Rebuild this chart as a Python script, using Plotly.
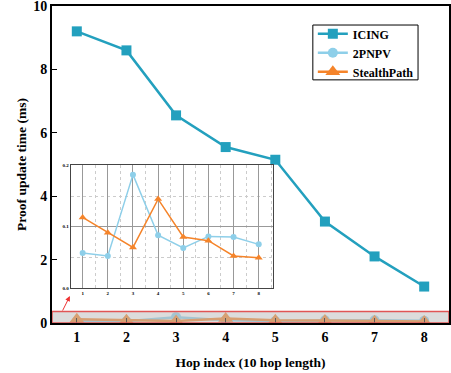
import plotly.graph_objects as go

hops = [1, 2, 3, 4, 5, 6, 7, 8]
icing = [9.2, 8.6, 6.55, 5.55, 5.15, 3.2, 2.1, 1.15]
pnpv = [0.057, 0.052, 0.185, 0.086, 0.065, 0.084, 0.083, 0.071]
stealth = [0.115, 0.090, 0.066, 0.145, 0.083, 0.077, 0.052, 0.049]

C_ICING = "#23a0be"
C_PNPV = "#8ecfe9"
C_ST = "#f5842a"
FONT = "Liberation Serif"

fig = go.Figure()

# main traces
fig.add_trace(go.Scatter(x=hops, y=icing, name="ICING", mode="lines+markers",
                         line=dict(color=C_ICING, width=2.5),
                         marker=dict(symbol="square", size=10, color=C_ICING),
                         xaxis="x", yaxis="y"))
fig.add_trace(go.Scatter(x=hops, y=pnpv, name="2PNPV", mode="lines+markers",
                         line=dict(color=C_PNPV, width=2.5),
                         marker=dict(symbol="circle", size=10, color=C_PNPV),
                         xaxis="x", yaxis="y"))
fig.add_trace(go.Scatter(x=hops, y=stealth, name="StealthPath", mode="lines+markers",
                         line=dict(color=C_ST, width=2.5),
                         marker=dict(symbol="triangle-up", size=13, color=C_ST),
                         xaxis="x", yaxis="y"))

# inset traces
fig.add_trace(go.Scatter(x=hops, y=pnpv, mode="lines+markers", showlegend=False,
                         line=dict(color=C_PNPV, width=1.5),
                         marker=dict(symbol="circle", size=6, color=C_PNPV),
                         xaxis="x2", yaxis="y2"))
fig.add_trace(go.Scatter(x=hops, y=stealth, mode="lines+markers", showlegend=False,
                         line=dict(color=C_ST, width=1.5),
                         marker=dict(symbol="triangle-up", size=7, color=C_ST),
                         xaxis="x2", yaxis="y2"))

fig.update_layout(
    width=451, height=373,
    margin=dict(l=52, r=2, t=6, b=50, autoexpand=False),
    paper_bgcolor="white", plot_bgcolor="white",
    font=dict(family=FONT, color="black"),
    xaxis=dict(domain=[0, 1], range=[0.5, 8.5], tickvals=hops, automargin=False,
               showline=True, linecolor="black", linewidth=2, mirror=True,
               ticks="inside", ticklen=5, tickcolor="black", showgrid=False,
               zeroline=False, ticklabeloverflow="allow",
               tickfont=dict(size=14, family=FONT, weight="bold"),
               title=dict(text="Hop index (10 hop length)",
                          font=dict(size=13.5, family=FONT, weight="bold"), standoff=14)),
    yaxis=dict(domain=[0, 1], range=[0, 10], tickvals=[0, 2, 4, 6, 8, 10], automargin=False,
               showline=True, linecolor="black", linewidth=2, mirror=True,
               ticks="inside", ticklen=5, tickcolor="black", showgrid=False,
               zeroline=False, ticklabeloverflow="allow",
               tickfont=dict(size=14, family=FONT, weight="bold"),
               title=dict(text="Proof update time (ms)",
                          font=dict(size=13.5, family=FONT, weight="bold"), standoff=3)),
    xaxis2=dict(domain=[0.047, 0.556], anchor="y2", range=[0.523, 8.557], tickvals=hops,
                automargin=False,
                showline=True, linecolor="#444", linewidth=1, mirror=True,
                ticks="", showgrid=True, gridcolor="#999", gridwidth=1, zeroline=False,
                minor=dict(dtick=0.5, showgrid=True, gridcolor="#ccc", griddash="dot", gridwidth=1),
                tickfont=dict(size=5, family=FONT, weight="bold")),
    yaxis2=dict(domain=[0.111, 0.497], anchor="x2", range=[0, 0.2], tickvals=[0, 0.1, 0.2],
                tickformat=".1f", automargin=False,
                showline=True, linecolor="#444", linewidth=1, mirror=True,
                ticks="", showgrid=True, gridcolor="#999", gridwidth=1, zeroline=False,
                minor=dict(dtick=0.05, showgrid=True, gridcolor="#ccc", griddash="dot", gridwidth=1),
                tickfont=dict(size=5, family=FONT, weight="bold")),
    legend=dict(x=0.657, y=0.958, xanchor="left", yanchor="top",
                borderwidth=0, bgcolor="rgba(0,0,0,0)",
                font=dict(size=12, family=FONT, weight="bold"),
                tracegroupgap=0, itemwidth=30),
    shapes=[
        dict(type="rect", xref="paper", yref="paper", x0=0.657, x1=0.922, y0=0.767, y1=0.940,
             fillcolor="white", line=dict(color="black", width=1), layer="below"),
        dict(type="rect", xref="x", yref="y", x0=0.5, x1=8.5, y0=0, y1=0.36,
             fillcolor="rgba(185,185,185,0.5)", line=dict(color="#e05555", width=1.5),
             layer="above")],
    annotations=[dict(xref="paper", yref="paper", x=0.045, y=0.085, ax=-8, ay=16,
                      showarrow=True, arrowhead=2, arrowsize=1, arrowwidth=1,
                      arrowcolor="#ee3333", text="")],
)

fig.write_html("out.html", config={"displayModeBar": False},
               post_script="document.body.style.margin='0';document.body.style.overflow='hidden';")
